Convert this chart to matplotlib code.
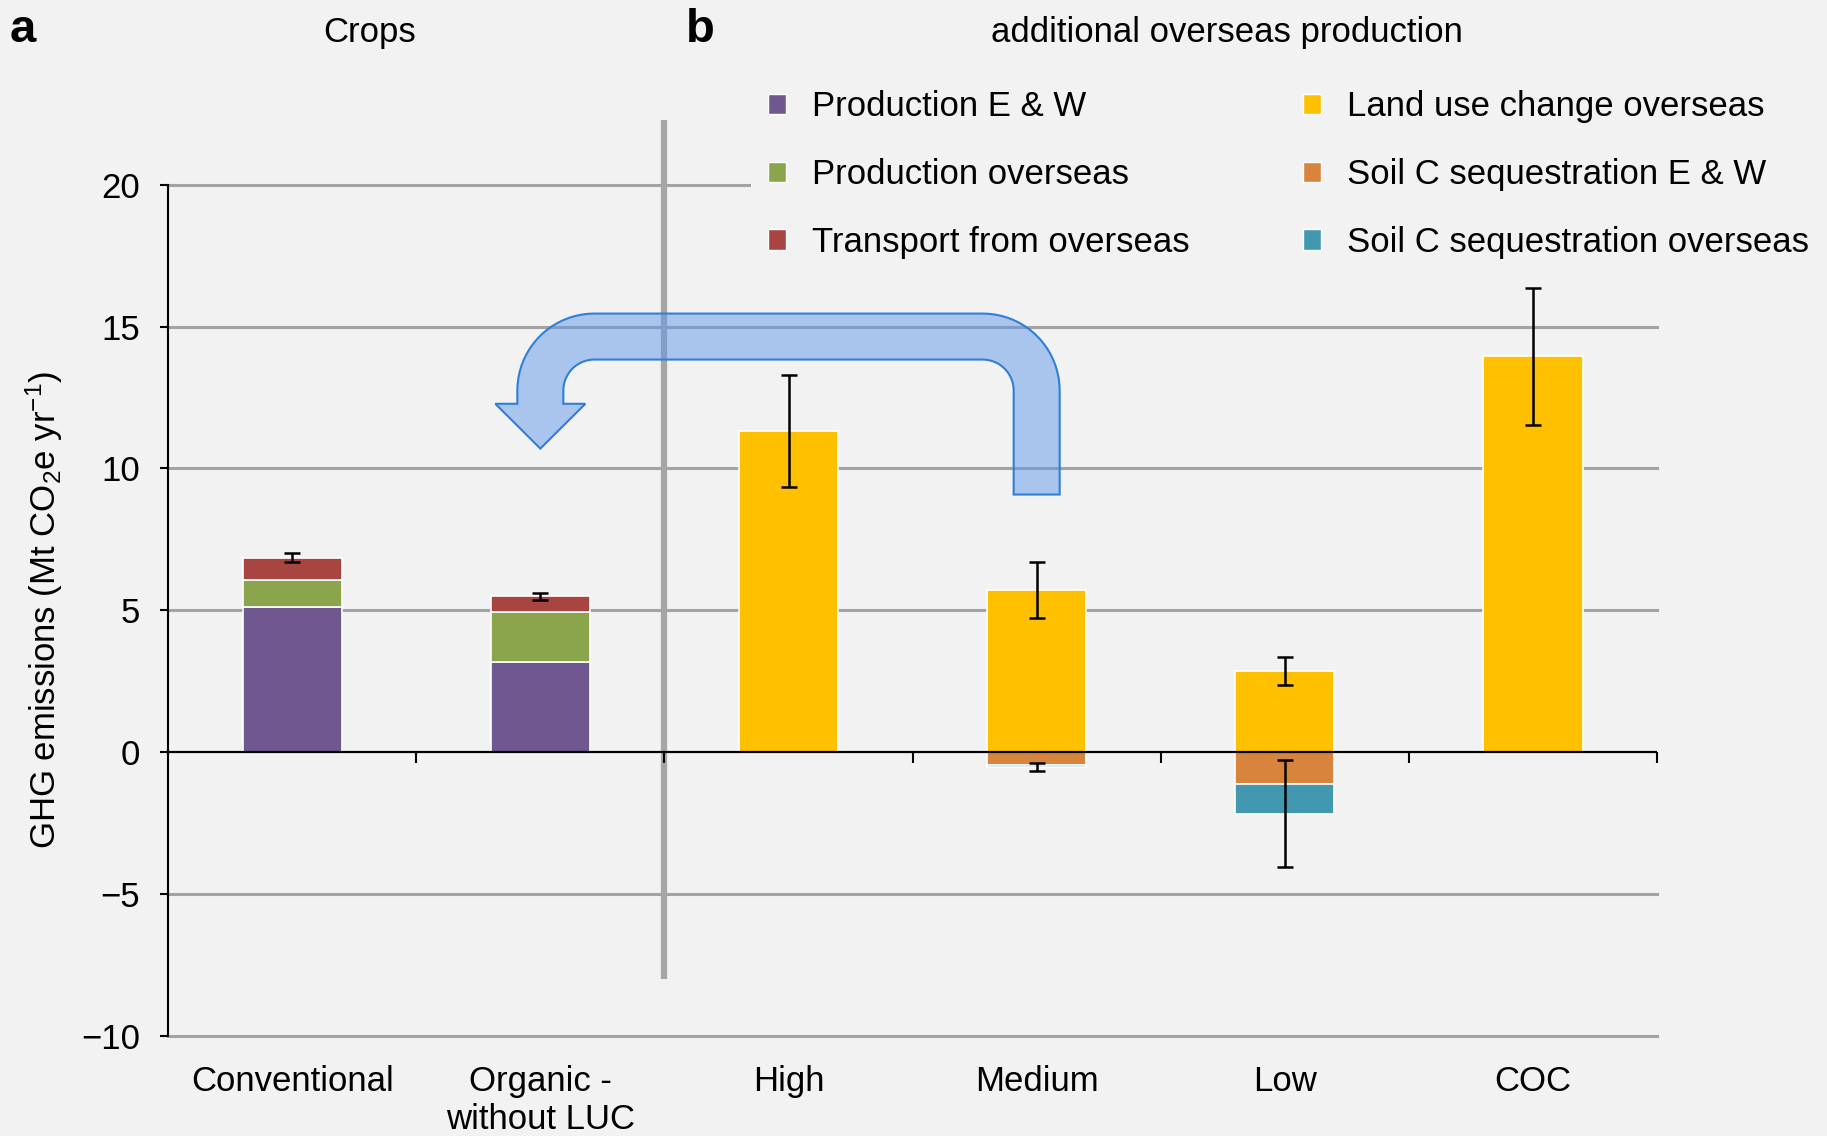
import numpy as np
import matplotlib
matplotlib.use('Agg')
import matplotlib.pyplot as plt
from matplotlib.patches import Patch, Polygon

plt.rcParams['font.family'] = ['Liberation Sans', 'DejaVu Sans']
plt.rcParams['mathtext.fontset'] = 'custom'
plt.rcParams['mathtext.rm'] = 'Liberation Sans'
plt.rcParams['mathtext.it'] = 'Liberation Sans:italic'
plt.rcParams['axes.unicode_minus'] = True

# dados (Mt CO2e / ano)
categories = ['Conventional', 'Organic -\nwithout LUC', 'High', 'Medium', 'Low', 'COC']
prod_ew = [5.10, 3.18, 0, 0, 0, 0]
prod_os = [0.98, 1.76, 0, 0, 0, 0]
transport = [0.77, 0.55, 0, 0, 0, 0]
luc = [0, 0, 11.33, 5.71, 2.85, 13.95]
soil_ew = [0, 0, 0, -0.44, -1.12, 0]
soil_os = [0, 0, 0, -0.08, -1.05, 0]
err_up = [0.16, 0.12, 1.97, 0.99, 0.49, 2.41]
err_down = [0, 0, 0, 0.13, 1.89, 0]
n_crops = 2  # painel a = 2 primeiras categorias

pos_series = [('Production E & W', prod_ew, '#6f5890'),
              ('Production overseas', prod_os, '#8aa54c'),
              ('Transport from overseas', transport, '#a94541'),
              ('Land use change overseas', luc, '#ffc000')]
neg_series = [('Soil C sequestration E & W', soil_ew, '#d9843c'),
              ('Soil C sequestration overseas', soil_os, '#4198b0')]

BG = '#f2f2f2'
FS = 25

fig = plt.figure(figsize=(18.27, 11.36), dpi=100, facecolor=BG)
ax = fig.add_axes([0.092, 0.0883, 0.815, 0.749], facecolor=BG)

x = np.arange(len(categories))
width = 0.40

# barras empilhadas positivas e negativas
bottom_pos = np.zeros(len(x))
for label, vals, color in pos_series:
    vals = np.array(vals, dtype=float)
    m = vals != 0
    ax.bar(x[m], vals[m], width, bottom=bottom_pos[m], color=color,
           edgecolor='white', linewidth=1.2, zorder=2)
    bottom_pos += vals
bottom_neg = np.zeros(len(x))
for label, vals, color in neg_series:
    vals = np.array(vals, dtype=float)
    m = vals != 0
    ax.bar(x[m], vals[m], width, bottom=bottom_neg[m], color=color,
           edgecolor='white', linewidth=1.2, zorder=2)
    bottom_neg += vals

# barras de erro
ax.errorbar(x, bottom_pos, yerr=err_up, fmt='none', ecolor='black',
            elinewidth=1.8, capsize=6, capthick=1.8, zorder=5)
eb = np.array(err_down) > 0
ax.errorbar(x[eb], bottom_neg[eb], yerr=np.array(err_down)[eb], fmt='none',
            ecolor='black', elinewidth=1.8, capsize=6, capthick=1.8, zorder=5)

ax.set_xlim(-0.5, len(categories) - 0.5)
ax.set_ylim(-10, 20)

# grade e eixos
yt = [-10, -5, 0, 5, 10, 15, 20]
ax.set_yticks(yt)
for v in yt:
    if v == 0:
        ax.axhline(0, color='black', lw=1.6, zorder=3)
    else:
        ax.axhline(v, color='#a3a3a3', lw=2.2, zorder=1, clip_on=False)
bounds = np.arange(-0.5, len(categories), 1.0)[1:]
ax.vlines(bounds, -0.4, 0, color='black', lw=1.5, zorder=3, clip_on=False)

for s in ['top', 'right', 'bottom']:
    ax.spines[s].set_visible(False)
ax.spines['left'].set_linewidth(1.5)
ax.tick_params(axis='y', direction='out', length=6, width=1.5, pad=14, labelsize=FS)
ax.tick_params(axis='x', length=0, pad=21, labelsize=FS)
ax.set_xticks(x)
ax.set_xticklabels(categories)

ax.set_ylabel('GHG emissions (Mt CO$_2$e yr$^{-1}$)', fontsize=FS)
ax.yaxis.set_label_coords(-0.069, 0.5)

# linha vertical separando os paineis
ax.plot([n_crops - 0.5] * 2, [-8, 22.3], color='#a6a6a6', lw=4.5,
        solid_capstyle='butt', clip_on=False, zorder=1)

# seta azul: de Medium para Organic
fig.canvas.draw()
tr = ax.transData
xr = tr.transform((3, 0))[0]
xl = tr.transform((1, 0))[0]
y_top = tr.transform((0, 14.65))[1]
y_bot = tr.transform((0, 9.08))[1]
y_head = tr.transform((0, 12.28))[1]
y_tip = tr.transform((0, 10.7))[1]
hw, R, HW = 23, 54, 45


def arc(cx, cy, r, a0, a1, n=20):
    t = np.radians(np.linspace(a0, a1, n))
    return list(zip(cx + r * np.cos(t), cy + r * np.sin(t)))


pts = [(xr + hw, y_bot)]
pts += arc(xr - R, y_top - R, R + hw, 0, 90)
pts += arc(xl + R, y_top - R, R + hw, 90, 180)
pts += [(xl - hw, y_head), (xl - HW, y_head), (xl, y_tip), (xl + HW, y_head), (xl + hw, y_head)]
pts += arc(xl + R, y_top - R, R - hw, 180, 90)
pts += arc(xr - R, y_top - R, R - hw, 90, 0)
pts += [(xr - hw, y_bot)]
pts = tr.inverted().transform(np.array(pts))
ax.add_patch(Polygon(pts, closed=True, facecolor=(0.38, 0.60, 0.925, 0.5),
                     edgecolor='#2f7fd8', lw=1.5, zorder=4, clip_on=False))

# legenda
handles = [Patch(facecolor=c, edgecolor='white', lw=1, label=l)
           for l, _, c in pos_series + neg_series]
fig.legend(handles=handles, ncol=2, loc='upper left',
           bbox_to_anchor=(751 / 1827, 1 - 73 / 1136), fontsize=FS,
           frameon=True, facecolor=BG, edgecolor='none', framealpha=1,
           fancybox=False, borderaxespad=0, borderpad=0.5,
           handlelength=0.52, handleheight=0.52, handletextpad=0.75,
           labelspacing=1.0, columnspacing=3.25)

# titulos
fig.text(10 / 1827, 1 - 42 / 1136, 'a', fontsize=34, fontweight='bold', va='baseline')
fig.text(686 / 1827, 1 - 42 / 1136, 'b', fontsize=34, fontweight='bold', va='baseline')
fig.text(370 / 1827, 1 - 42 / 1136, 'Crops', fontsize=FS, ha='center', va='baseline')
fig.text(1227 / 1827, 1 - 42 / 1136, 'additional overseas production', fontsize=FS,
         ha='center', va='baseline')

fig.savefig('out.png', dpi=100, facecolor=BG)
